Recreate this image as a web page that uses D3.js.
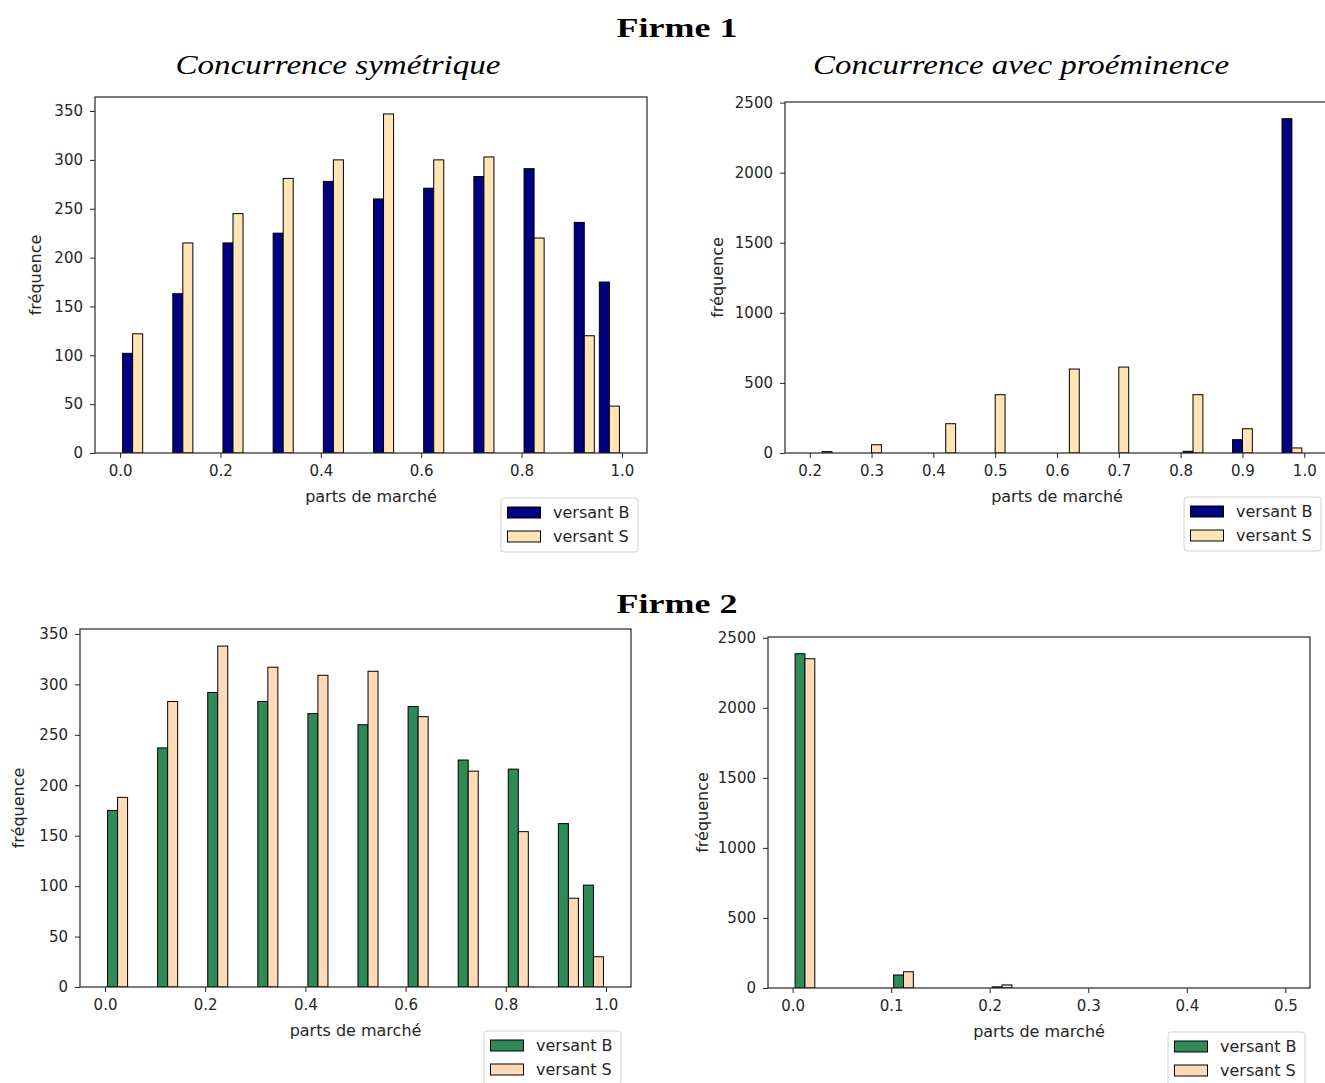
<!DOCTYPE html>
<html>
<head>
<meta charset="utf-8">
<script src="https://cdn.jsdelivr.net/npm/d3@7"></script>
<style>
  html, body { margin: 0; padding: 0; background: #fff; }
  svg { display: block; }
</style>
</head>
<body>
<svg id="fig" width="1325" height="1083"></svg>
<script>
// Histogram counts of market shares (20 bins per panel), two sides of the market.
const seriesNames = ["versant B", "versant S"];

// Firme 1 — symmetric competition, bins over [0, 1]
const f1SymRange = [0, 1];
const f1SymB = [102, 0, 163, 0, 215, 0, 225, 0, 278, 0, 260, 0, 271, 0, 283, 0, 291, 0, 236, 175];
const f1SymS = [122, 0, 215, 0, 245, 0, 281, 0, 300, 0, 347, 0, 300, 0, 303, 0, 220, 0, 120, 48];

// Firme 1 — competition with prominence, bins over [0.2, 1]
const f1ProRange = [0.2, 1];
const f1ProB = [0, 0, 0, 0, 0, 0, 0, 0, 0, 0, 0, 0, 0, 0, 0, 12, 0, 95, 0, 2385];
const f1ProS = [10, 0, 59, 0, 0, 209, 0, 416, 0, 0, 599, 0, 613, 0, 0, 416, 0, 173, 0, 36];

// Firme 2 — symmetric competition, bins over [0, 1]
const f2SymRange = [0, 1];
const f2SymB = [175, 0, 237, 0, 292, 0, 283, 0, 271, 0, 260, 0, 278, 0, 225, 0, 216, 0, 162, 101];
const f2SymS = [188, 0, 283, 0, 338, 0, 317, 0, 309, 0, 313, 0, 268, 0, 214, 0, 154, 0, 88, 30];

// Firme 2 — competition with prominence, bins over [0, 0.5]
const f2ProRange = [0, 0.5];
const f2ProB = [2386, 0, 0, 0, 93, 0, 0, 0, 8, 0, 0, 0, 0, 0, 0, 0, 0, 0, 0, 0];
const f2ProS = [2350, 0, 0, 0, 116, 0, 0, 0, 22, 0, 0, 0, 0, 0, 0, 0, 0, 0, 0, 0];

// Tick labels
const symXTicks = [0.0, 0.2, 0.4, 0.6, 0.8, 1.0];
const f1ProXTicks = [0.2, 0.3, 0.4, 0.5, 0.6, 0.7, 0.8, 0.9, 1.0];
const f2ProXTicks = [0.0, 0.1, 0.2, 0.3, 0.4, 0.5];
const symYTicks = [0, 50, 100, 150, 200, 250, 300, 350];
const proYTicks = [0, 500, 1000, 1500, 2000, 2500];

const firm1Colors = ["#000080", "#FFE4B5"];
const firm2Colors = ["#2E8B57", "#FFDAB9"];

const svg = d3.select("#fig");
const axisFont = "'DejaVu Sans', sans-serif";
const ink = "#262626";

// Headings
function heading(x, y, text, opts) {
  const t = svg.append("text")
    .attr("x", x).attr("y", y)
    .attr("text-anchor", "middle")
    .attr("font-family", "'Liberation Serif', 'DejaVu Serif', serif")
    .attr("font-size", opts.size)
    .attr("font-weight", opts.bold ? "bold" : "normal")
    .attr("font-style", opts.italic ? "italic" : "normal")
    .attr("fill", "#000")
    .text(text);
  if (opts.width) t.attr("textLength", opts.width).attr("lengthAdjust", "spacingAndGlyphs");
}
heading(677, 37, "Firme 1", {size: 28, bold: true, width: 121});
heading(338, 74, "Concurrence symétrique", {size: 28, italic: true, width: 325});
heading(1021, 74, "Concurrence avec proéminence", {size: 28, italic: true, width: 416});
heading(677, 613, "Firme 2", {size: 28, bold: true, width: 121});

function panel(cfg) {
  const {box, range, B, S, colors, xTicks, yTicks, legendBox} = cfg;
  const nBins = B.length;
  const span = range[1] - range[0];
  const binW = span / nBins;

  // 5% margins on x; y starts at 0 with 5% headroom
  const x = d3.scaleLinear()
    .domain([range[0] - 0.05 * span, range[1] + 0.05 * span])
    .range([box.left, box.right]);
  const yMax = d3.max(B.concat(S)) * 1.05;
  const y = d3.scaleLinear().domain([0, yMax]).range([box.bottom, box.top]);

  const g = svg.append("g");
  const clipId = "clip" + Math.round(box.left) + "_" + Math.round(box.top);
  svg.append("clipPath").attr("id", clipId)
    .append("rect").attr("x", box.left).attr("y", box.top)
    .attr("width", box.right - box.left).attr("height", box.bottom - box.top);

  // Bars: two side-by-side bars per bin, 80% of the bin occupied
  const bars = [];
  [B, S].forEach((vals, si) => {
    vals.forEach((v, k) => {
      if (v <= 0) return;
      const x0 = range[0] + k * binW + 0.1 * binW + si * 0.4 * binW;
      bars.push({x0, x1: x0 + 0.4 * binW, v, si});
    });
  });
  g.append("g").attr("clip-path", `url(#${clipId})`)
    .selectAll("rect").data(bars).join("rect")
    .attr("x", d => x(d.x0))
    .attr("y", d => y(d.v))
    .attr("width", d => x(d.x1) - x(d.x0))
    .attr("height", d => y(0) - y(d.v))
    .attr("fill", d => colors[d.si])
    .attr("stroke", "#000")
    .attr("stroke-width", 1);

  // Axes
  const fmtX = d3.format(".1f");
  const xAxis = g.append("g")
    .attr("transform", `translate(0,${box.bottom})`)
    .call(d3.axisBottom(x).tickValues(xTicks).tickFormat(fmtX).tickSizeOuter(0).tickSize(5).tickPadding(7));
  const yAxis = g.append("g")
    .attr("transform", `translate(${box.left},0)`)
    .call(d3.axisLeft(y).tickValues(yTicks).tickFormat(d3.format("d")).tickSizeOuter(0).tickSize(5).tickPadding(7));
  [xAxis, yAxis].forEach(a => {
    a.select(".domain").remove();
    a.selectAll("line").attr("stroke", ink);
    a.selectAll("text").attr("font-family", axisFont).attr("font-size", 15).attr("fill", ink);
  });

  // Frame
  g.append("rect")
    .attr("x", box.left).attr("y", box.top)
    .attr("width", box.right - box.left).attr("height", box.bottom - box.top)
    .attr("fill", "none").attr("stroke", ink).attr("stroke-width", 1.2);

  // Axis labels
  g.append("text")
    .attr("x", (box.left + box.right) / 2).attr("y", box.bottom + 49)
    .attr("text-anchor", "middle")
    .attr("font-family", axisFont).attr("font-size", 16).attr("fill", ink)
    .text("parts de marché");
  const ylx = box.left - cfg.ylabelOffset;
  const yly = (box.top + box.bottom) / 2;
  g.append("text")
    .attr("transform", `translate(${ylx},${yly}) rotate(-90)`)
    .attr("text-anchor", "middle").attr("dominant-baseline", "central")
    .attr("font-family", axisFont).attr("font-size", 16).attr("fill", ink)
    .text("fréquence");

  // Legend
  const lg = g.append("g").attr("transform", `translate(${legendBox.x},${legendBox.y})`);
  lg.append("rect")
    .attr("width", 137).attr("height", 54).attr("rx", 3)
    .attr("fill", "#fff").attr("stroke", "#d0d0d0").attr("stroke-width", 1);
  seriesNames.forEach((name, i) => {
    lg.append("rect")
      .attr("x", 6.5).attr("y", 9 + i * 24)
      .attr("width", 33).attr("height", 11)
      .attr("fill", colors[i]).attr("stroke", "#000").attr("stroke-width", 1);
    lg.append("text")
      .attr("x", 52).attr("y", 14.5 + i * 24)
      .attr("dominant-baseline", "central")
      .attr("font-family", axisFont).attr("font-size", 16).attr("fill", ink)
      .text(name);
  });
}

panel({
  box: {left: 95, right: 647, top: 97, bottom: 453},
  range: f1SymRange, B: f1SymB, S: f1SymS, colors: firm1Colors,
  xTicks: symXTicks, yTicks: symYTicks, ylabelOffset: 60,
  legendBox: {x: 501, y: 498}
});
panel({
  box: {left: 785, right: 1329, top: 102, bottom: 453},
  range: f1ProRange, B: f1ProB, S: f1ProS, colors: firm1Colors,
  xTicks: f1ProXTicks, yTicks: proYTicks, ylabelOffset: 68,
  legendBox: {x: 1184, y: 497}
});
panel({
  box: {left: 80, right: 631, top: 629, bottom: 987},
  range: f2SymRange, B: f2SymB, S: f2SymS, colors: firm2Colors,
  xTicks: symXTicks, yTicks: symYTicks, ylabelOffset: 62,
  legendBox: {x: 484, y: 1031}
});
panel({
  box: {left: 768, right: 1310, top: 637, bottom: 988},
  range: f2ProRange, B: f2ProB, S: f2ProS, colors: firm2Colors,
  xTicks: f2ProXTicks, yTicks: proYTicks, ylabelOffset: 66,
  legendBox: {x: 1168, y: 1032}
});
</script>
</body>
</html>
